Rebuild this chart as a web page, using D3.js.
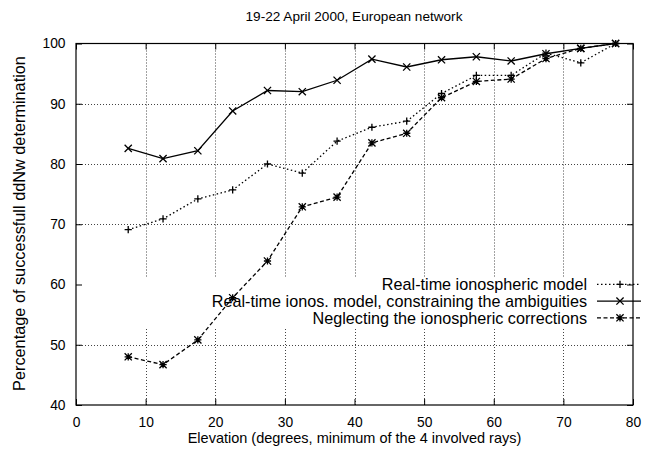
<!DOCTYPE html>
<html><head><meta charset="utf-8">
<script src="https://cdn.jsdelivr.net/npm/d3@7"></script>
<style>
html,body{margin:0;padding:0;background:#fff;}
text{font-family:"Liberation Sans",Arial,sans-serif;fill:#000;}
</style></head>
<body><svg id="c" width="653" height="456"></svg>
<script>
const elevation = [7.5,12.5,17.5,22.5,27.5,32.5,37.5,42.5,47.5,52.5,57.5,62.5,67.5,72.5,77.5];
const realTimeModel = [69.1,70.9,74.2,75.7,80.0,78.5,83.8,86.1,87.1,91.7,94.7,94.7,98.4,96.8,100];
const constrained = [82.6,80.9,82.2,88.8,92.2,92.0,93.9,97.4,96.1,97.3,97.8,97.1,98.3,99.2,100];
const neglecting = [48.0,46.7,50.8,57.8,63.9,72.9,74.5,83.5,85.1,91.0,93.7,94.1,97.5,99.2,100];
const xTicks = [0,10,20,30,40,50,60,70,80];
const yTicks = [40,50,60,70,80,90,100];
const seriesNames = ["Real-time ionospheric model","Real-time ionos. model, constraining the ambiguities","Neglecting the ionospheric corrections"];
const titleText = "19-22 April 2000, European network";
const xLabel = "Elevation (degrees, minimum of the 4 involved rays)";
const yLabel = "Percentage of successfull ddNw determination";

const svg = d3.select("#c");
const L=76, R=633, T=43.5, B=405;
const x = d3.scaleLinear().domain([0,80]).range([L,R]);
const y = d3.scaleLinear().domain([40,100]).range([B,T]);

const keyTop=276.5, keyBot=327.5;

const g = svg.append("g");
xTicks.filter(v=>v>0&&v<80).forEach(v=>{
  [[B,keyBot],[keyTop,T]].forEach(([a,b])=>{
    g.append("line").attr("x1",Math.round(x(v))+0.5).attr("x2",Math.round(x(v))+0.5).attr("y1",a).attr("y2",b)
     .attr("stroke","#444").attr("stroke-width",1).attr("stroke-dasharray","1,2");
  });
});
yTicks.filter(v=>v>40&&v<100).forEach(v=>{
  const yy=Math.round(y(v))+0.5;
  if (yy>keyTop && yy<keyBot) return;
  g.append("line").attr("x1",L).attr("x2",R).attr("y1",yy).attr("y2",yy)
   .attr("stroke","#444").attr("stroke-width",1).attr("stroke-dasharray","1,2");
});

const axB = d3.axisBottom(x).tickValues(xTicks).tickSize(-6).tickPadding(12.5);
const axT = d3.axisTop(x).tickValues(xTicks).tickSize(-6).tickFormat("");
const axL = d3.axisLeft(y).tickValues(yTicks).tickSize(-6).tickPadding(10.5);
const axR = d3.axisRight(y).tickValues(yTicks).tickSize(-6).tickFormat("");
function style(sel){
  sel.selectAll(".domain").remove();
  sel.selectAll("line").attr("stroke","#000");
  sel.selectAll("text").attr("font-size","13.8px").attr("font-family","Liberation Sans, Arial, sans-serif").attr("fill","#000");
}
svg.append("g").attr("transform",`translate(0,${B})`).call(axB).call(style);
svg.append("g").attr("transform",`translate(0,${T})`).call(axT).call(style);
svg.append("g").attr("transform",`translate(${L},0)`).call(axL).call(style);
svg.append("g").attr("transform",`translate(${R},0)`).call(axR).call(style);
svg.append("rect").attr("x",L).attr("y",T).attr("width",R-L).attr("height",B-T)
  .attr("fill","none").attr("stroke","#000").attr("stroke-width",1.2);

svg.append("text").attr("x",354).attr("y",21).attr("text-anchor","middle").attr("font-size","13.6px").text(titleText);
svg.append("text").attr("x",354.5).attr("y",443).attr("text-anchor","middle").attr("font-size","14.5px").text(xLabel);
svg.append("text").attr("transform","translate(24.5,223.5) rotate(-90)").attr("text-anchor","middle").attr("font-size","16.3px").text(yLabel);

function marker(sel, type, cx, cy){
  const s=3.6;
  let d="";
  if(type===0||type===2) d+=`M${cx-s},${cy}H${cx+s}M${cx},${cy-s}V${cy+s}`;
  if(type===1||type===2) d+=`M${cx-s},${cy-s}L${cx+s},${cy+s}M${cx-s},${cy+s}L${cx+s},${cy-s}`;
  sel.append("path").attr("d",d).attr("stroke","#000").attr("stroke-width",1.3).attr("fill","none");
}
const series = [
  {vals: realTimeModel, dash:"1.5,2.5", type:0},
  {vals: constrained, dash:null, type:1},
  {vals: neglecting, dash:"4,2.5", type:2}
];
const line = d3.line().x((d,i)=>x(elevation[i])).y(d=>y(d));
series.forEach((s,k)=>{
  const p = svg.append("path").datum(s.vals).attr("d",line).attr("fill","none")
    .attr("stroke","#000").attr("stroke-width",1.3);
  if(s.dash) p.attr("stroke-dasharray",s.dash);
  s.vals.forEach((v,i)=>marker(svg,s.type,x(elevation[i]),y(v)));
  const ly = 284.3 + k*16.75;
  svg.append("text").attr("x",587).attr("y",ly+6).attr("text-anchor","end").attr("font-size","16.2px").text(seriesNames[k]);
  const lp = svg.append("line").attr("x1",597).attr("x2",641).attr("y1",ly).attr("y2",ly)
    .attr("stroke","#000").attr("stroke-width",1.3);
  if(s.dash) lp.attr("stroke-dasharray",s.dash);
  marker(svg,s.type,620,ly);
});
</script></body></html>
